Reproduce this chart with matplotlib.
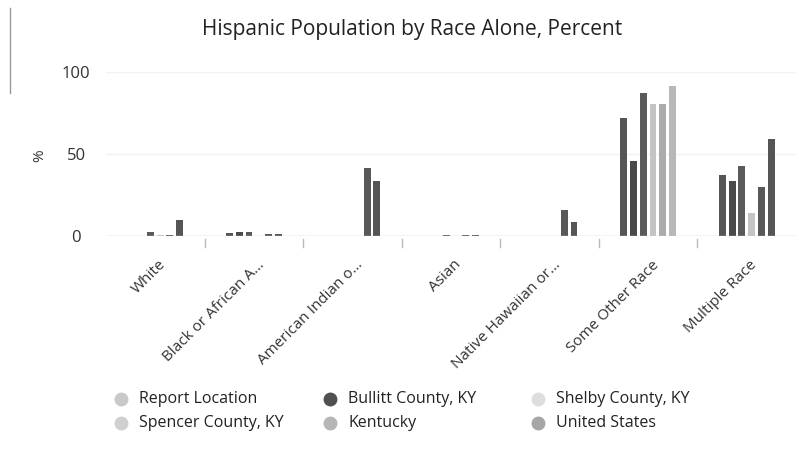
import numpy as np
import matplotlib
matplotlib.use("Agg")
import matplotlib.pyplot as plt
import matplotlib.transforms as mtransforms
from matplotlib.lines import Line2D

plt.rcParams['font.family'] = ['Open Sans', 'DejaVu Sans']

# race categories along the x axis
categories = ["White", "Black or African A\u2026", "American Indian o\u2026", "Asian",
              "Native Hawaiian or\u2026", "Some Other Race", "Multiple Race"]

# percent of hispanic population, one list per location
series_names = ["Report Location", "Bullitt County, KY", "Shelby County, KY",
                "Spencer County, KY", "Kentucky", "United States"]
report_location = [0.5, 2.0, 0.5, 0.3, 0.3, 72.5, 37.5]
bullitt = [0.5, 2.5, 0.5, 0.5, 0.3, 46.0, 34.0]
shelby = [2.5, 3.0, 0.5, 1.0, 0.3, 87.5, 43.0]
spencer = [1.0, 0.0, 0.5, 0.5, 0.3, 80.5, 14.5]
kentucky = [1.0, 1.3, 42.0, 1.0, 16.0, 80.5, 30.0]
united_states = [10.0, 1.3, 34.0, 0.7, 9.0, 92.0, 59.5]
all_series = [report_location, bullitt, shelby, spencer, kentucky, united_states]

# bar fill per series, legend dot per series
bar_colors = ['#555555', '#4a4a4a', '#5a5a5a', '#c4c4c4', '#585858', '#555555']
legend_colors = ['#c9c9c9', '#505050', '#dedede', '#d0d0d0', '#b6b6b6', '#a6a6a6']
# a few bars print lighter than the rest of their series
light_bars = {(5, 4): '#ababab', (5, 5): '#b8b8b8'}

fig = plt.figure(figsize=(7.99, 4.57), dpi=100)
W, H = 799, 457
ax = fig.add_axes([106 / W, 1 - 236.5 / H, 690 / W, 164 / H])

x = np.arange(len(categories))
step = 0.099
width = 0.07
for i, vals in enumerate(all_series):
    offs = (i - 2.5) * step
    bars = ax.bar(x + offs, vals, width, color=bar_colors[i], zorder=3)
    for (ci, si), col in light_bars.items():
        if si == i:
            bars[ci].set_facecolor(col)

ax.set_xlim(-0.5, len(categories) - 0.5)
ax.set_ylim(0, 100)

# faint gridlines, baseline
for yv in [50, 100]:
    ax.axhline(yv, color='#f2f2f2', lw=1, zorder=1)
ax.axhline(0, color='#c8c8c8', lw=1, zorder=4)

for s in ax.spines.values():
    s.set_visible(False)

ax.set_yticks([0, 50, 100])
ax.set_yticklabels(['0', '50', '100'], fontsize=12, color='#333333')
ax.tick_params(axis='y', length=0, pad=21.5)
for lab in ax.get_yticklabels():
    lab.set_horizontalalignment('center')

# category labels, tilted
ax.set_xticks(x)
ax.set_xticklabels(categories, rotation=45, ha='right', rotation_mode='anchor',
                   fontsize=11, color='#333333')
ax.tick_params(axis='x', length=0, pad=15)
shift = mtransforms.ScaledTranslation(3 / 100, 0, fig.dpi_scale_trans)
for lab in ax.get_xticklabels():
    lab.set_transform(lab.get_transform() + shift)

# tick marks between categories
for b in np.arange(0.5, len(categories) - 0.5, 1.0):
    ax.plot([b, b], [-1.5, -6.5], color='#bbbbbb', lw=1, clip_on=False, zorder=2)

fig.text(40 / W, 1 - 156 / H, '%', rotation=90, ha='center', va='center',
         fontsize=11, color='#333333')
fig.text(412 / W, 1 - 30 / H, 'Hispanic Population by Race Alone, Percent',
         ha='center', va='center', fontsize=15, color='#222222')

# legend, three columns
col_x = [121, 330, 538]
row_y = [399, 423]
for k, name in enumerate(series_names):
    cx = col_x[k % 3]
    cy = row_y[k // 3]
    fig.add_artist(Line2D([cx / W], [1 - cy / H], marker='o', markersize=9,
                          color=legend_colors[k], lw=0, transform=fig.transFigure))
    fig.text((cx + 18) / W, 1 - cy / H, name, ha='left', va='center',
             fontsize=11.5, color='#222222')

# border edge on the left
fig.add_artist(Line2D([10 / W, 10 / W], [1 - 8 / H, 1 - 93 / H], color='#9a9a9a',
                      lw=1, transform=fig.transFigure))

fig.savefig('out.png', dpi=100, facecolor='white')
